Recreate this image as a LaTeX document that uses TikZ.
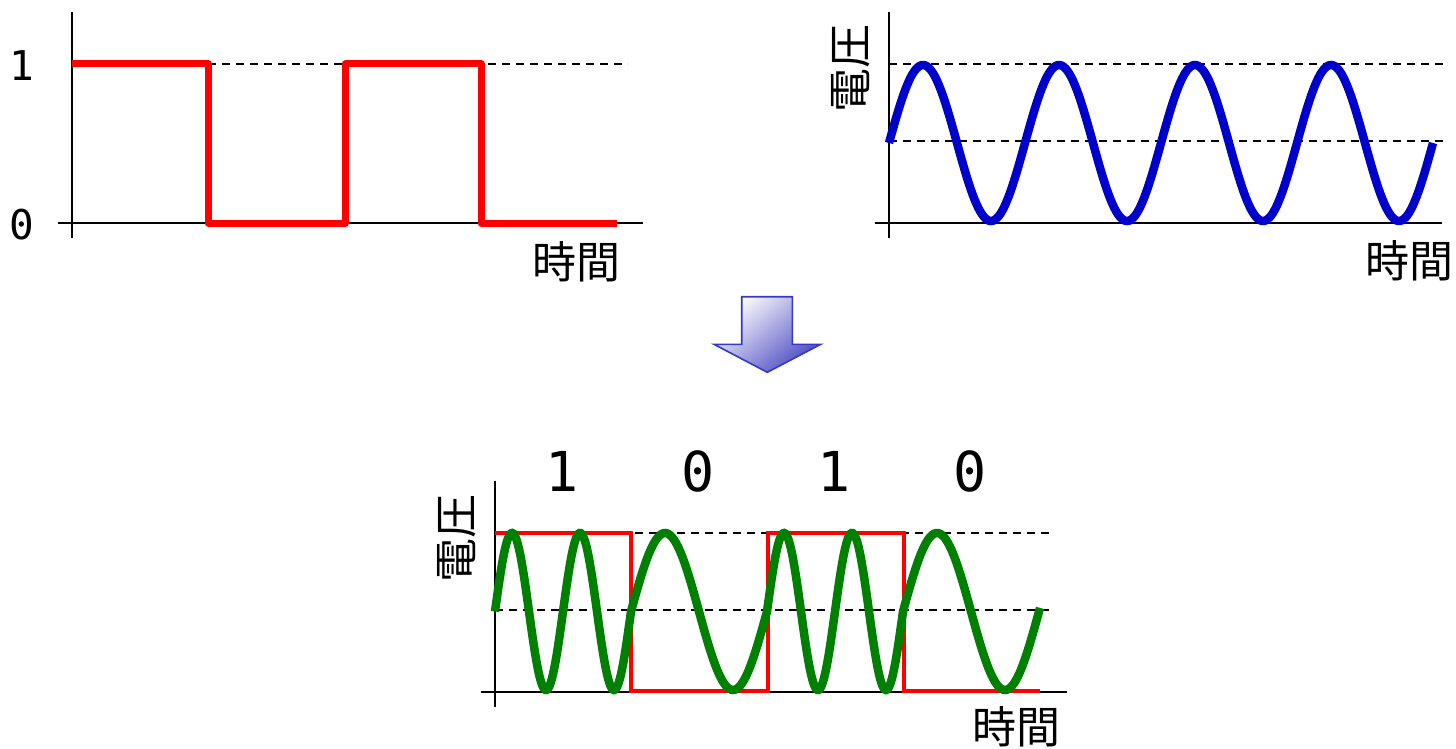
\documentclass[tikz,border=0pt]{standalone}
\usepackage{fontspec}
\newfontfamily\cjk{Noto Sans CJK JP}
\newfontfamily\monofont{DejaVu Sans Mono}
\definecolor{sqred}{RGB}{255,0,0}
\definecolor{sinblue}{RGB}{0,0,204}
\definecolor{fskgreen}{RGB}{0,128,0}
\definecolor{arrowline}{RGB}{55,55,205}
\definecolor{arrowfill}{RGB}{75,75,195}
\begin{document}
\begin{tikzpicture}[x=1pt,y=-1pt,
  axisline/.style={line width=1.6pt, black},
  guide/.style={line width=1.4pt, black, dash pattern=on 8pt off 6pt},
  sqwave/.style={line width=7pt, sqred, line join=round},
  sqthin/.style={line width=3.5pt, sqred},
  bluewave/.style={line width=8.5pt, sinblue},
  greenwave/.style={line width=8.5pt, fskgreen},
  cjklabel/.style={inner sep=0pt, font=\cjk\fontsize{44}{44}\selectfont},
  ticklabel/.style={inner sep=0pt, font=\monofont\fontsize{41}{41}\selectfont},
  bitlabel/.style={inner sep=0pt, font=\monofont\fontsize{55}{55}\selectfont}]
\useasboundingbox (0,0) rectangle (1456,749);

% ---------- top left: square wave ----------
\draw[axisline] (72,12) -- (72,238);
\draw[axisline] (58,223) -- (643,223);
\draw[guide] (208,64) -- (628,64);
\draw[sqwave] (72,64) -- (208,64) -- (208,223) -- (345,223) -- (345,64) -- (481,64) -- (481,223) -- (617,223);
\node[ticklabel] (one) at (22,66) {1};
\node[ticklabel] (zero) at (22,225) {0};
\node[cjklabel] (timeA) at (576,262) {時間};

% ---------- top right: carrier ----------
\draw[axisline] (889,12) -- (889,238);
\draw[axisline] (875,223) -- (1442,223);
\draw[guide] (889,64) -- (1443,64);
\draw[guide] (889,141) -- (1443,141);
\draw[bluewave] plot[domain=0:544, samples=300] ({889+\x},{143-78*sin(\x/136*360)});
\node[cjklabel, rotate=90] (voltA) at (851,69) {電圧};
\node[cjklabel] (timeB) at (1409,261) {時間};

% ---------- arrow ----------
\path[draw=arrowline, line width=1.6pt, line join=miter,
      top color=white, bottom color=arrowfill, shading angle=40]
  (741.7,296.7) -- (792.3,296.7) -- (792.3,344.3) -- (820.7,344.3)
  -- (767.3,372.3) -- (714,344.3) -- (741.7,344.3) -- cycle;

% ---------- bottom: FSK ----------
\draw[axisline] (495,481) -- (495,707);
\draw[axisline] (481,692) -- (1067,692);
\draw[guide] (495,533) -- (1050,533);
\draw[guide] (495,610) -- (1050,610);
\draw[sqthin] (495,533) -- (631,533) -- (631,691) -- (768,691) -- (768,533) -- (904,533) -- (904,691) -- (1040,691);
\draw[greenwave]
  plot[domain=0:136, samples=120] ({495+\x},{611.5-78.5*sin(\x/136*720)})
  -- plot[domain=0:136, samples=80] ({631+\x},{611.5-78.5*sin(\x/136*360)})
  -- plot[domain=0:136, samples=120] ({767+\x},{611.5-78.5*sin(\x/136*720)})
  -- plot[domain=0:137, samples=80] ({903+\x},{611.5-78.5*sin(\x/136*360)});
\node[bitlabel] (b1) at (562,471) {1};
\node[bitlabel] (b2) at (698,471) {0};
\node[bitlabel] (b3) at (834,471) {1};
\node[bitlabel] (b4) at (970,471) {0};
\node[cjklabel, rotate=90] (voltB) at (457,538) {電圧};
\node[cjklabel] (timeC) at (1016,727) {時間};
\end{tikzpicture}
\end{document}
